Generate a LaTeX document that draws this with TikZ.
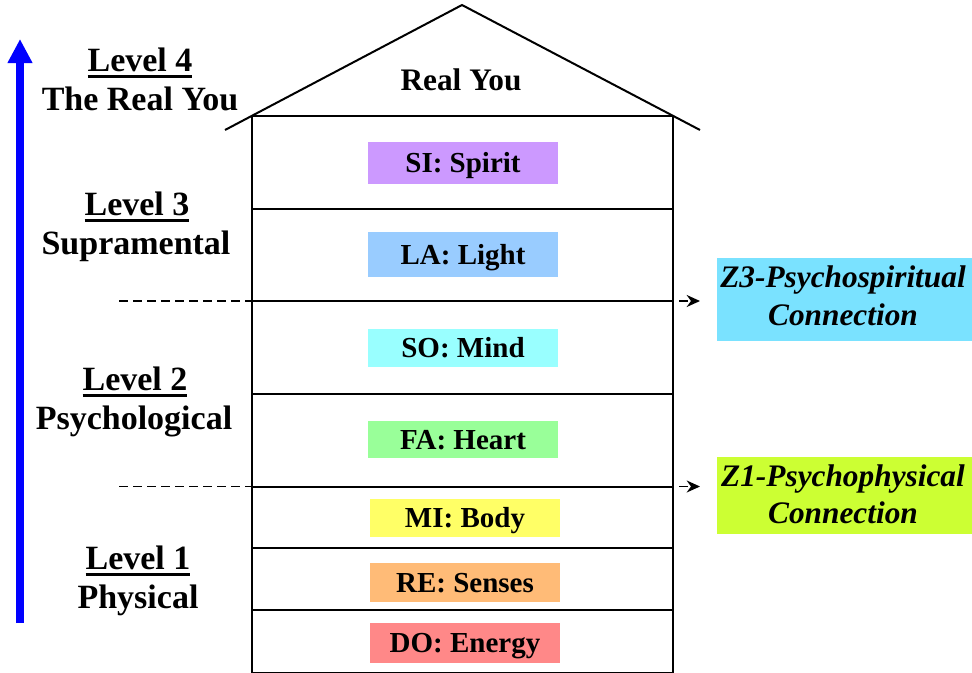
\documentclass[tikz,border=0pt]{standalone}
\usepackage{fontspec}
\setmainfont{Liberation Serif}
\usetikzlibrary{arrows.meta}
\definecolor{siC}{HTML}{CC99FF}
\definecolor{laC}{HTML}{99CCFF}
\definecolor{soC}{HTML}{99FFFF}
\definecolor{faC}{HTML}{99FF99}
\definecolor{miC}{HTML}{FFFF66}
\definecolor{reC}{HTML}{FFBB77}
\definecolor{doC}{HTML}{FF8888}
\definecolor{zthreeC}{HTML}{7AE2FF}
\definecolor{zoneC}{HTML}{CCFF33}
\newcommand\lvlul[1]{\setbox0\hbox{#1}\rlap{\hbox to \wd0{\leaders\vrule height -3.3pt depth 5.6pt\hfill}}\box0}
\begin{document}
\begin{tikzpicture}[x=0.75pt,y=-0.75pt,
  wall/.style={line width=1.5pt},
  floorline/.style={line width=1.5pt},
  lbl/.style={inner sep=0pt, anchor=base, font=\fontsize{25.5pt}{30pt}\selectfont\bfseries},
  rooflbl/.style={inner sep=0pt, anchor=base, font=\fontsize{23.5pt}{28pt}\selectfont\bfseries},
  layer/.style={inner sep=0pt, minimum width=143pt, text height=14.4pt, text depth=0pt,
    font=\fontsize{21.75pt}{26pt}\selectfont\bfseries},
  zbox/.style={inner sep=0pt, minimum width=191.25pt},
  zlbl/.style={inner sep=0pt, anchor=base, font=\fontsize{23.5pt}{28pt}\selectfont\bfseries\itshape},
  dasharrow/.style={line width=1.3pt, dash pattern=on 6.5pt off 4pt, -{Stealth[length=10pt,width=9pt]}},
  bluearrow/.style={blue, line width=6pt, -{Triangle[length=18pt,width=17.5pt]}}
]
\useasboundingbox (0,0) rectangle (972,672);

% house corners
\coordinate (eaveL) at (225,130);
\coordinate (apex) at (462,5);
\coordinate (eaveR) at (700,130);
\coordinate (wTL) at (252,116);
\coordinate (wTR) at (673,116);
\coordinate (wBL) at (252,673);
\coordinate (wBR) at (673,673);

% colored layer boxes
\node[layer, fill=siC, minimum height=31.5pt] (si) at (463,163) {SI: Spirit};
\node[layer, fill=laC, minimum height=33.75pt] (la) at (463,254.5) {LA: Light};
\node[layer, fill=soC, minimum height=28.5pt] (so) at (463,348) {SO: Mind};
\node[layer, fill=faC, minimum height=27.75pt] (fa) at (463,439.5) {FA: Heart};
\node[layer, fill=miC, minimum height=28.5pt] (mi) at (465,518) {MI: Body};
\node[layer, fill=reC, minimum height=29.25pt] (re) at (465,582.5) {RE: Senses};
\node[layer, fill=doC, minimum height=30pt] (do) at (465,643) {DO: Energy};

% floors
\coordinate (f1L) at (252,208.5); \coordinate (f1R) at (673,208.5);
\coordinate (f2L) at (252,301);   \coordinate (f2R) at (673,301);
\coordinate (f3L) at (252,393.5); \coordinate (f3R) at (673,393.5);
\coordinate (f4L) at (252,486.5); \coordinate (f4R) at (673,486.5);
\coordinate (f5L) at (252,548);   \coordinate (f5R) at (673,548);
\coordinate (f6L) at (252,610);   \coordinate (f6R) at (673,610);
\foreach \f in {1,...,6} {\draw[floorline] (f\f L) -- (f\f R);}

% walls and roof
\draw[wall] (wBL) -- (wTL) -- (wTR) -- (wBR);
\draw[wall] (wBL) -- (wBR);
\draw[wall] (eaveL) -- (apex) -- (eaveR);
\node[rooflbl] (realyou) at (461,90) {Real You};

% dashed arrows
\coordinate (dThreeA) at (119,301); \coordinate (dThreeB) at (700,301);
\coordinate (dOneA) at (119,486.5); \coordinate (dOneB) at (700,486.5);
\draw[dasharrow] (dThreeA) -- (dThreeB);
\draw[dasharrow] (dOneA) -- (dOneB);

% Z boxes
\node[zbox, fill=zthreeC, minimum height=62.25pt] (z3) at (844.5,299.5) {};
\node[zlbl] (z3a) at (843,287) {Z3-Psychospiritual};
\node[zlbl] (z3b) at (843,325) {Connection};
\node[zbox, fill=zoneC, minimum height=57.75pt] (z1) at (844.5,495.5) {};
\node[zlbl] (z1a) at (843,486) {Z1-Psychophysical};
\node[zlbl] (z1b) at (843,523) {Connection};

% blue arrow
\coordinate (bBot) at (20,623);
\coordinate (bTop) at (20,39);
\draw[bluearrow] (bBot) -- (bTop);

% level labels
\node[lbl] (l4) at (140,71) {\lvlul{Level 4}};
\node[lbl] (l4b) at (140,110) {The Real You};
\node[lbl] (l3) at (137,215) {\lvlul{Level 3}};
\node[lbl] (l3b) at (136,254) {Supramental};
\node[lbl] (l2) at (135,390) {\lvlul{Level 2}};
\node[lbl] (l2b) at (134,429) {Psychological};
\node[lbl] (l1) at (138,569) {\lvlul{Level 1}};
\node[lbl] (l1b) at (138,608) {Physical};
\end{tikzpicture}
\end{document}
